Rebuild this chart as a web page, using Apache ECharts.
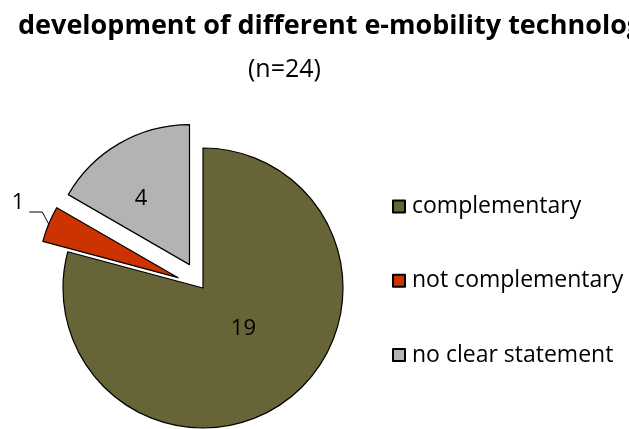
<!DOCTYPE html>
<html>
<head>
<meta charset="utf-8">
<script src="https://cdn.jsdelivr.net/npm/echarts@6/dist/echarts.min.js"></script>
<style>
  html, body { margin: 0; padding: 0; background: #ffffff; }
  #chart { width: 629px; height: 429px; }
</style>
</head>
<body>
<div id="chart"></div>
<script>
// answers
const categories = ['complementary', 'not complementary', 'no clear statement']
const counts = [19, 1, 4]
const colors = ['#676537', '#cc3300', '#b3b3b3']
const exploded = [false, true, true]

const fontFamily = '"Open Sans", "Noto Sans", sans-serif'

// nudges so the value labels sit where Excel put them
const labelShift = [[-4, -17], [0, -18], [-12, -3]]

const pieData = categories.map((name, i) => {
  const item = {
    name: name,
    value: counts[i],
    selected: exploded[i],
    itemStyle: { color: colors[i] }
  }
  // the small slice gets its label outside with a leader line
  if (counts[i] === 1) {
    item.label = { position: 'outside' }
    item.labelLine = {
      show: true,
      length: 8,
      length2: 12,
      lineStyle: { color: '#000000', width: 1 }
    }
  }
  return item
})

const myChart = echarts.init(document.getElementById('chart'))
const option = {
  animation: false,
  backgroundColor: '#ffffff',
  title: [
    {
      text: 'development of different e-mobility technologies',
      left: 13,
      top: 8,
      textStyle: { fontFamily, fontSize: 27, fontWeight: 'bold', color: '#000000' }
    },
    {
      text: '(n=24)',
      left: 243,
      top: 52,
      textStyle: { fontFamily, fontSize: 25, fontWeight: 'normal', color: '#000000' }
    }
  ],
  legend: {
    orient: 'vertical',
    left: 387,
    top: 190,
    itemGap: 51.3,
    itemWidth: 12,
    itemHeight: 12,
    icon: 'rect',
    data: categories,
    textStyle: { fontFamily, fontSize: 23, color: '#000000', padding: [0, 0, 0, 2] }
  },
  series: [
    {
      type: 'pie',
      center: [203, 288],
      radius: 140,
      startAngle: 90,
      clockwise: true,
      selectedMode: 'multiple',
      selectedOffset: 27,
      avoidLabelOverlap: false,
      itemStyle: { borderColor: '#000000', borderWidth: 1.2 },
      label: {
        show: true,
        position: 'inside',
        formatter: '{c}',
        fontFamily,
        fontSize: 22,
        color: '#000000'
      },
      labelLayout: function (params) {
        const s = labelShift[params.dataIndex]
        const out = { dx: s[0], dy: s[1] }
        // re-route the leader line of the outside label: from the slice
        // up-left to an elbow, then flat to just under-right of the label
        const pts = params.labelLinePoints
        if (pts && counts[params.dataIndex] === 1) {
          const r = params.labelRect
          const endX = r.x + s[0] + r.width + 5
          const endY = r.y + s[1] + r.height / 2 + 9
          out.labelLinePoints = [
            [pts[0][0], pts[0][1]],
            [endX + 13, endY],
            [endX, endY]
          ]
        }
        return out
      },
      emphasis: { disabled: true },
      data: pieData
    }
  ]
}
myChart.setOption(option)
</script>
</body>
</html>
